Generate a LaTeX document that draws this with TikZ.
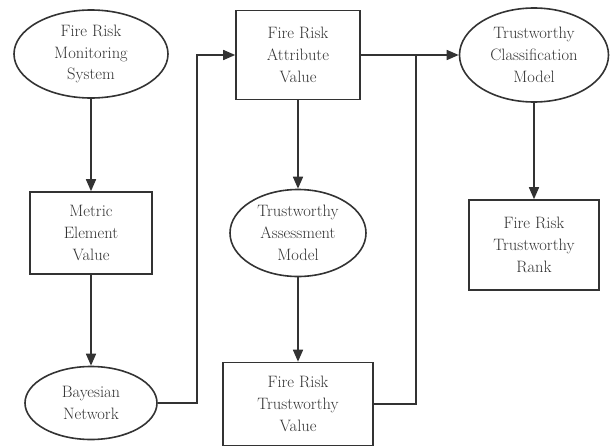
\documentclass[tikz,border=0pt]{standalone}
\usetikzlibrary{shapes.geometric,arrows.meta}
\definecolor{linec}{HTML}{333333}
\definecolor{textc}{HTML}{333333}
\begin{document}
\begin{tikzpicture}[x=1pt,y=-1pt,line join=miter,>={Triangle[length=12pt,width=10pt]},font=\fontsize{16.5}{21.7}\selectfont]
	\tikzset{b/.style={draw=linec,line width=1.6pt,rectangle,inner sep=0pt,align=center,text=textc},
		e/.style={draw=linec,line width=1.6pt,ellipse,inner sep=0pt,align=center,text=textc}}
	\useasboundingbox (0,0) rectangle (610,447);
	
	\path (91,54)node[e,minimum width=154pt,minimum height=88pt](sys){Fire Risk\\Monitoring\\System}
	(91,233)node[b,minimum width=122pt,minimum height=82pt](metric){Metric\\Element\\Value}
	(91,403)node[e,minimum width=132pt,minimum height=73pt](bayes){Bayesian\\Network};
	\path (298,55)node[b,minimum width=124pt,minimum height=89pt](attr){Fire Risk\\Attribute\\Value}
	(298,233)node[e,minimum width=136pt,minimum height=87pt](assess){Trustworthy\\Assessment\\Model}
	(298,404)node[b,minimum width=150pt,minimum height=83pt](value){Fire Risk\\Trustworthy\\Value};
	\path (534,55)node[e,minimum width=149pt,minimum height=94pt](tcm){Trustworthy\\Classification\\Model}
	(534,245)node[b,minimum width=130pt,minimum height=90pt](rank){Fire Risk\\Trustworthy\\Rank};
	\coordinate (j1) at (197,55);
	\coordinate (j2) at (416,55);
	
	\foreach \x/\y in {sys/metric,metric/bayes,attr/assess,assess/value,tcm/rank}{
		\draw[->,linec,line width=1.6pt] (\x.south)--(\y.north);	}
	\draw[->,linec,line width=1.6pt] (bayes.east)-|(j1)--(attr.west);
	\draw[->,linec,line width=1.6pt] (attr.east)--(tcm.west);
	\draw[linec,line width=1.6pt] (value.east)-|(j2);
\end{tikzpicture}
\end{document}
